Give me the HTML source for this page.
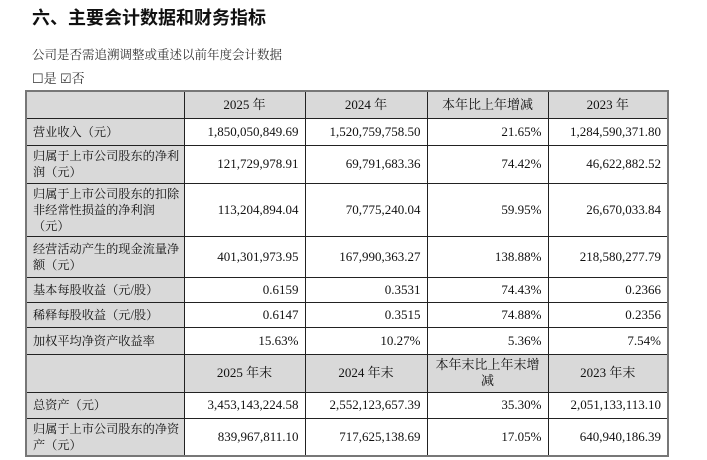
<!DOCTYPE html>
<html><head><meta charset="utf-8"><style>
body{margin:0;width:707px;height:460px;background:#fff;overflow:hidden;font-family:"Liberation Serif","Noto Serif CJK SC",serif;color:#111;position:relative}
.t{position:absolute;left:32px;top:4px;font-size:18px;font-weight:bold;font-family:"Liberation Sans","Noto Sans CJK SC",sans-serif}
.s{position:absolute;left:32px;top:45px;font-size:12.5px;color:#333}
.c{position:absolute;left:32px;top:68px;font-size:13px;color:#333;font-family:"Noto Serif CJK SC",serif}
table{position:absolute;left:25px;top:90px;border-collapse:collapse;font-size:13px;border:2px solid #777;table-layout:fixed}
td{border:1px solid #222;padding:0 6px;text-align:right;line-height:16px}
td:first-child{text-align:left;background:#d9d9d9;padding-left:6px;padding-right:0;font-size:12.2px}
tr.h td{background:#d9d9d9;text-align:center}
</style></head><body>
<div class="t">六、主要会计数据和财务指标</div>
<div class="s">公司是否需追溯调整或重述以前年度会计数据</div>
<div class="c">☐是 ☑否</div>
<table>
<colgroup><col style="width:158px"><col style="width:121px"><col style="width:122px"><col style="width:121px"><col style="width:120px"></colgroup>
<tr class="h" style="height:27px"><td></td><td>2025 年</td><td>2024 年</td><td>本年比上年增减</td><td>2023 年</td></tr>
<tr style="height:27px"><td>营业收入（元）</td><td>1,850,050,849.69</td><td>1,520,759,758.50</td><td>21.65%</td><td>1,284,590,371.80</td></tr>
<tr style="height:38px"><td>归属于上市公司股东的净利润（元）</td><td>121,729,978.91</td><td>69,791,683.36</td><td>74.42%</td><td>46,622,882.52</td></tr>
<tr style="height:53px"><td>归属于上市公司股东的扣除非经常性损益的净利润（元）</td><td>113,204,894.04</td><td>70,775,240.04</td><td>59.95%</td><td>26,670,033.84</td></tr>
<tr style="height:41px"><td>经营活动产生的现金流量净额（元）</td><td>401,301,973.95</td><td>167,990,363.27</td><td>138.88%</td><td>218,580,277.79</td></tr>
<tr style="height:25px"><td>基本每股收益（元/股）</td><td>0.6159</td><td>0.3531</td><td>74.43%</td><td>0.2366</td></tr>
<tr style="height:25px"><td>稀释每股收益（元/股）</td><td>0.6147</td><td>0.3515</td><td>74.88%</td><td>0.2356</td></tr>
<tr style="height:27px"><td>加权平均净资产收益率</td><td>15.63%</td><td>10.27%</td><td>5.36%</td><td>7.54%</td></tr>
<tr class="h" style="height:38px"><td></td><td>2025 年末</td><td>2024 年末</td><td>本年末比上年末增<br>减</td><td>2023 年末</td></tr>
<tr style="height:26px"><td>总资产（元）</td><td>3,453,143,224.58</td><td>2,552,123,657.39</td><td>35.30%</td><td>2,051,133,113.10</td></tr>
<tr style="height:38px"><td>归属于上市公司股东的净资产（元）</td><td>839,967,811.10</td><td>717,625,138.69</td><td>17.05%</td><td>640,940,186.39</td></tr>
</table>
</body></html>
